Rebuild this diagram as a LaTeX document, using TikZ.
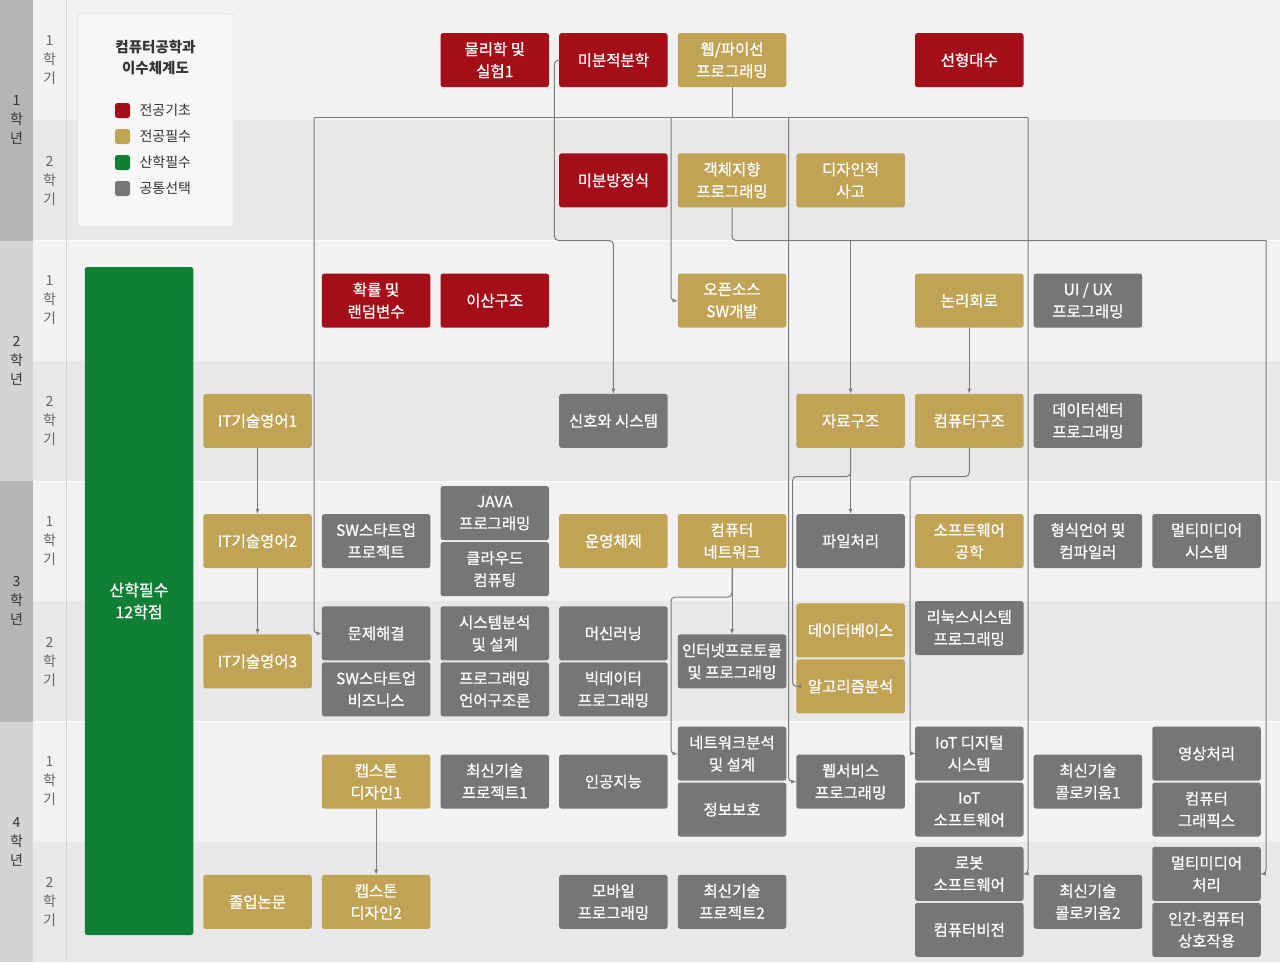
\documentclass[tikz,border=0pt]{standalone}
\usepackage{fontspec}
\setmainfont{Noto Sans CJK KR}
\newfontfamily\coursefont[FakeBold=0.8]{Noto Sans CJK KR}
\usetikzlibrary{arrows.meta}

\definecolor{basered}{HTML}{A30E18}
\definecolor{majorgold}{HTML}{C1A356}
\definecolor{indusgreen}{HTML}{128034}
\definecolor{electgray}{HTML}{777576}
\definecolor{bandone}{HTML}{F2F2F2}
\definecolor{bandtwo}{HTML}{E8E8E8}
\definecolor{yeardark}{HTML}{B5B5B5}
\definecolor{yearlight}{HTML}{D4D4D4}
\definecolor{wirecol}{HTML}{7B7B7B}
\definecolor{inkcol}{HTML}{333333}

\begin{document}
\begin{tikzpicture}[x=1pt,y=-1pt,
  course/.style={rectangle,rounded corners=2.5pt,minimum width=108.5pt,minimum height=54pt,
    inner sep=1pt,align=center,text=white,font=\coursefont\fontsize{15.5}{22}\selectfont},
  cbase/.style={course,fill=basered},
  cmajor/.style={course,fill=majorgold},
  celect/.style={course,fill=electgray},
  busline/.style={draw=wirecol,line width=1pt},
  prereq/.style={busline,-{Latex[length=5pt,width=4pt]},rounded corners=4pt},
  yearlab/.style={align=center,text=inkcol,font=\fontsize{14}{19}\selectfont},
  semlab/.style={align=center,text=black!60,font=\fontsize{14}{19}\selectfont},
  swatch/.style={rectangle,rounded corners=2.5pt,minimum size=15pt,inner sep=0pt},
  legtext/.style={anchor=west,text=inkcol,font=\fontsize{14}{18}\selectfont}]
\useasboundingbox (0,0) rectangle (1280,962);
% ---------- bands ----------
\foreach \r in {0,2,4,6} \fill[bandone] (33,\r*120.25) rectangle (1280,\r*120.25+120.25);
\foreach \r in {1,3,5,7} \fill[bandtwo] (33,\r*120.25) rectangle (1280,\r*120.25+120.25);
\foreach \y/\c in {0/yeardark,1/yearlight,2/yeardark,3/yearlight}
  \fill[\c] (0,\y*240.5) rectangle (33,\y*240.5+240.5);
\foreach \y in {1,2,3} \draw[white!60!bandone,line width=1pt] (33,\y*240.5) -- (1280,\y*240.5);
\draw[black!18,line width=1pt] (66.5,0) -- (66.5,962);
% year / semester labels
\foreach \y in {1,...,4} {
  \node[yearlab] (year\y) at (16.5,{(\y-0.5)*240.5}) {\y\\학\\년};
  \node[semlab] (sem\y a) at (49.5,{(\y-1)*240.5+60}) {1\\학\\기};
  \node[semlab] (sem\y b) at (49.5,{(\y-1)*240.5+180.5}) {2\\학\\기};
}
% ---------- legend ----------
\draw[fill=black!3,draw=black!18,rounded corners=2pt] (78,14) rectangle (233,226);
\node[align=center,text=inkcol,font=\fontsize{14.5}{21}\selectfont\bfseries] (title) at (155.5,57.5) {컴퓨터공학과\\이수체계도};
\node[swatch,fill=basered] (keybase) at (122.5,110.5) {};
\node[swatch,fill=majorgold] (keymajor) at (122.5,136.5) {};
\node[swatch,fill=indusgreen] (keyindus) at (122.5,162.5) {};
\node[swatch,fill=electgray] (keyelect) at (122.5,188.5) {};
\node[legtext] at (136,110.5) {전공기초};
\node[legtext] at (136,136.5) {전공필수};
\node[legtext] at (136,162.5) {산학필수};
\node[legtext] at (136,188.5) {공통선택};
% ---------- industry block ----------
\node[course,fill=indusgreen,minimum height=668pt,font=\coursefont\fontsize{16}{22}\selectfont] (indus) at (139,601) {산학필수\\12학점};
% ---------- year 1 ----------
\node[cbase] (phys) at (494.75,60.1) {물리학 및\\실험1};
\node[cbase] (calc) at (613.4,60.1) {미분적분학};
\node[cmajor] (web) at (732,60.1) {웹/파이선\\프로그래밍};
\node[cbase] (linalg) at (969.25,60.1) {선형대수};
\node[cbase] (diffeq) at (613.4,180.4) {미분방정식};
\node[cmajor] (oop) at (732,180.4) {객체지향\\프로그래밍};
\node[cmajor] (design) at (850.6,180.4) {디자인적\\사고};
% ---------- year 2 ----------
\node[cbase] (prob) at (376.1,300.6) {확률 및\\랜덤변수};
\node[cbase] (discrete) at (494.75,300.6) {이산구조};
\node[cmajor] (oss) at (732,300.6) {오픈소스\\SW개발};
\node[cmajor] (logic) at (969.25,300.6) {논리회로};
\node[celect] (uiux) at (1087.9,300.6) {UI / UX\\프로그래밍};
\node[cmajor] (it1) at (257.5,420.9) {IT기술영어1};
\node[celect] (sig) at (613.4,420.9) {신호와 시스템};
\node[cmajor] (ds) at (850.6,420.9) {자료구조};
\node[cmajor] (arch) at (969.25,420.9) {컴퓨터구조};
\node[celect] (dcprog) at (1087.9,420.9) {데이터센터\\프로그래밍};
% ---------- year 3 ----------
\node[cmajor] (it2) at (257.5,541.1) {IT기술영어2};
\node[celect] (swproj) at (376.1,541.1) {SW스타트업\\프로젝트};
\node[celect] (java) at (494.75,513.1) {JAVA\\프로그래밍};
\node[celect] (cloud) at (494.75,569.1) {클라우드\\컴퓨팅};
\node[cmajor] (os) at (613.4,541.1) {운영체제};
\node[cmajor] (net) at (732,541.1) {컴퓨터\\네트워크};
\node[celect] (file) at (850.6,541.1) {파일처리};
\node[cmajor] (se) at (969.25,541.1) {소프트웨어\\공학};
\node[celect] (compiler) at (1087.9,541.1) {형식언어 및\\컴파일러};
\node[celect] (mmsys) at (1206.5,541.1) {멀티미디어\\시스템};
\node[cmajor] (it3) at (257.5,661.4) {IT기술영어3};
\node[celect] (solve) at (376.1,633.4) {문제해결};
\node[celect] (swbiz) at (376.1,689.4) {SW스타트업\\비즈니스};
\node[celect] (sysan) at (494.75,633.4) {시스템분석\\및 설계};
\node[celect] (plang) at (494.75,689.4) {프로그래밍\\언어구조론};
\node[celect] (ml) at (613.4,633.4) {머신러닝};
\node[celect] (bigdata) at (613.4,689.4) {빅데이터\\프로그래밍};
\node[celect] (inet) at (732,661.4) {인터넷프로토콜\\및 프로그래밍};
\node[cmajor] (db) at (850.6,630.4) {데이터베이스};
\node[cmajor] (algo) at (850.6,686.4) {알고리즘분석};
\node[celect] (linux) at (969.25,628) {리눅스시스템\\프로그래밍};
% ---------- year 4 ----------
\node[cmajor] (cap1) at (376.1,781.6) {캡스톤\\디자인1};
\node[celect] (proj1) at (494.75,781.6) {최신기술\\프로젝트1};
\node[celect] (ai) at (613.4,781.6) {인공지능};
\node[celect] (nwa) at (732,753.6) {네트워크분석\\및 설계};
\node[celect] (infosec) at (732,809.6) {정보보호};
\node[celect] (websvc) at (850.6,781.6) {웹서비스\\프로그래밍};
\node[celect] (iotd) at (969.25,753.6) {IoT 디지털\\시스템};
\node[celect] (iotsw) at (969.25,809.6) {IoT\\소프트웨어};
\node[celect] (coll1) at (1087.9,781.6) {최신기술\\콜로키움1};
\node[celect] (image) at (1206.5,753.6) {영상처리};
\node[celect] (graphics) at (1206.5,809.6) {컴퓨터\\그래픽스};
\node[cmajor] (thesis) at (257.5,901.9) {졸업논문};
\node[cmajor] (cap2) at (376.1,901.9) {캡스톤\\디자인2};
\node[celect] (mobile) at (613.4,901.9) {모바일\\프로그래밍};
\node[celect] (proj2) at (732,901.9) {최신기술\\프로젝트2};
\node[celect] (robot) at (969.25,873.9) {로봇\\소프트웨어};
\node[celect] (vision) at (969.25,929.9) {컴퓨터비전};
\node[celect] (coll2) at (1087.9,901.9) {최신기술\\콜로키움2};
\node[celect] (mmproc) at (1206.5,873.9) {멀티미디어\\처리};
\node[celect] (hci) at (1206.5,929.9) {인간-컴퓨터\\상호작용};
% ---------- prerequisite wires ----------
% web/python bus
\coordinate (webw) at (314,117.5);
\coordinate (webe) at (1028,117.5);
\coordinate (taposs) at (671,117.5);
\coordinate (tapweb) at (788.5,117.5);
\draw[busline] (web.south) -- (web.south |- webw);
\draw[busline] (webw) -- (webe);
\draw[prereq] (webw) |- (solve.west);
\draw[prereq] (taposs) |- (oss.west);
\draw[prereq] (tapweb) |- (websvc.west);
\draw[prereq] (webe) |- (robot.east);
% calculus
\draw[prereq] (calc.west) -- ++(-4.5,0) -- ++(0,180.4) -| (sig.north);
% object oriented bus
\coordinate (oope) at (1266,240.5);
\draw[busline,rounded corners=4pt] (oop.south) |- (oope);
\draw[prereq] (ds.north |- oope) -- (ds.north);
\draw[prereq] (oope) |- (mmproc.east);
% year 2 chains
\draw[prereq] (logic) -- (arch);
\draw[prereq] (it1) -- (it2);
\draw[prereq] (it2) -- (it3);
\draw[prereq] (ds) -- (file);
\coordinate (tapalgo) at (792.5,476.5);
\draw[prereq] (ds.south) |- (tapalgo) |- (algo.west);
\coordinate (tapiot) at (910,476.5);
\draw[prereq] (arch.south) |- (tapiot) |- (iotd.west);
% network
\draw[prereq] (net) -- (inet);
\coordinate (tapnwa) at (671,597);
\draw[prereq] (net.south) |- (tapnwa) |- (nwa.west);
% capstone
\draw[prereq] (cap1) -- (cap2);
\end{tikzpicture}
\end{document}
